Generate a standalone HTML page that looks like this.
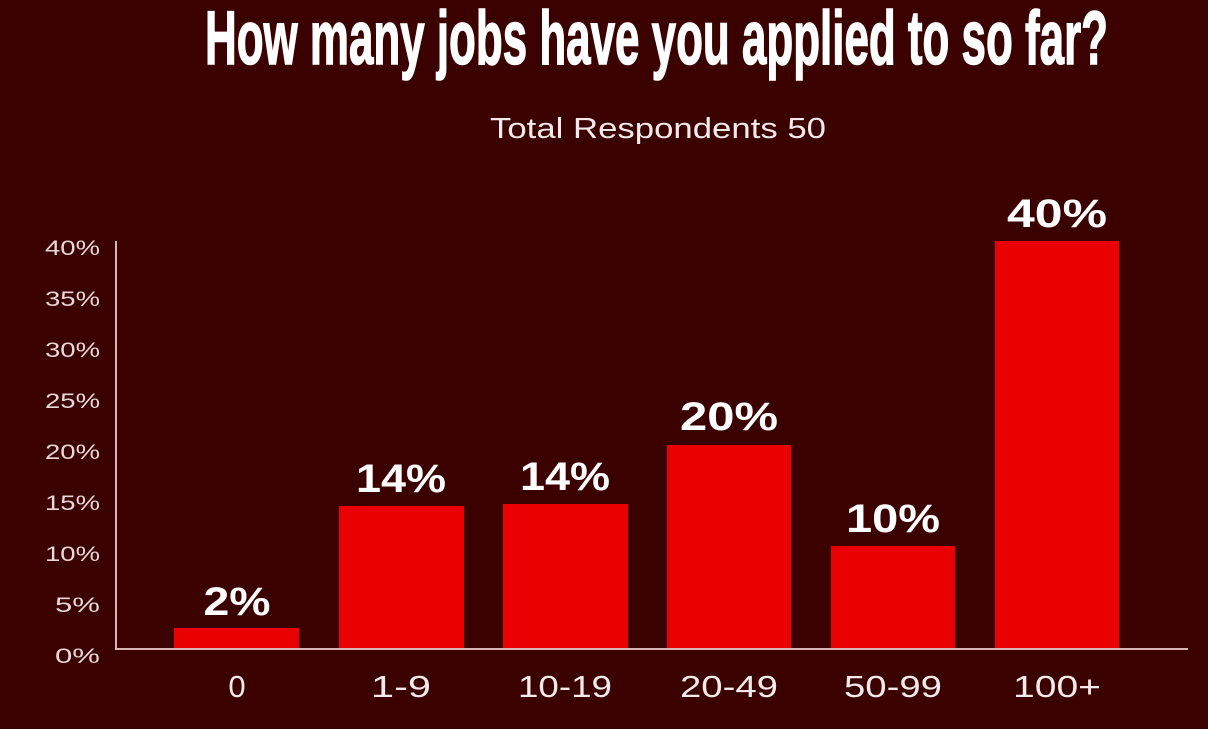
<!DOCTYPE html>
<html><head><meta charset="utf-8"><style>
html,body{margin:0;padding:0;background:#3b0000;}
svg{display:block;}
</style></head><body>
<svg width="1208" height="729" viewBox="0 0 1208 729" xmlns="http://www.w3.org/2000/svg">
<rect width="1208" height="729" fill="#3b0000"/>
<text x="205" y="64" font-family="Liberation Sans Narrow, Liberation Sans, sans-serif" font-weight="bold" font-size="76" fill="#fff" stroke="#fff" stroke-width="1.5" textLength="903" lengthAdjust="spacingAndGlyphs">How many jobs have you applied to so far?</text>
<text x="490" y="138" font-family="Liberation Sans, sans-serif" font-size="29" fill="#f4eaea" textLength="336" lengthAdjust="spacingAndGlyphs">Total Respondents 50</text>
<g font-family="Liberation Sans, sans-serif" font-size="21" fill="#e8d8d8" text-anchor="end">
<text x="100" y="663" textLength="45" lengthAdjust="spacingAndGlyphs">0%</text>
<text x="100" y="612" textLength="45" lengthAdjust="spacingAndGlyphs">5%</text>
<text x="100" y="561" textLength="55" lengthAdjust="spacingAndGlyphs">10%</text>
<text x="100" y="510" textLength="55" lengthAdjust="spacingAndGlyphs">15%</text>
<text x="100" y="459" textLength="55" lengthAdjust="spacingAndGlyphs">20%</text>
<text x="100" y="408" textLength="55" lengthAdjust="spacingAndGlyphs">25%</text>
<text x="100" y="357" textLength="55" lengthAdjust="spacingAndGlyphs">30%</text>
<text x="100" y="306" textLength="55" lengthAdjust="spacingAndGlyphs">35%</text>
<text x="100" y="255" textLength="55" lengthAdjust="spacingAndGlyphs">40%</text>
</g>
<g fill="#ea0000">
<rect x="174" y="628" width="125" height="21"/>
<rect x="339" y="506" width="125" height="143"/>
<rect x="503" y="504" width="125" height="145"/>
<rect x="667" y="445" width="124" height="204"/>
<rect x="831" y="546" width="124" height="103"/>
<rect x="995" y="241" width="124" height="408"/>
</g>
<line x1="116" y1="241" x2="116" y2="649" stroke="#d8b4b4" stroke-width="2"/>
<line x1="115" y1="649" x2="1188" y2="649" stroke="#d8b4b4" stroke-width="2"/>
<g font-family="Liberation Sans, sans-serif" font-weight="bold" font-size="40" fill="#fff" text-anchor="middle">
<text x="237" y="615" textLength="67" lengthAdjust="spacingAndGlyphs">2%</text>
<text x="401" y="492" textLength="90" lengthAdjust="spacingAndGlyphs">14%</text>
<text x="565" y="490" textLength="90" lengthAdjust="spacingAndGlyphs">14%</text>
<text x="729" y="430" textLength="98" lengthAdjust="spacingAndGlyphs">20%</text>
<text x="893" y="532" textLength="94" lengthAdjust="spacingAndGlyphs">10%</text>
<text x="1057" y="227" textLength="100" lengthAdjust="spacingAndGlyphs">40%</text>
</g>
<g font-family="Liberation Sans, sans-serif" font-size="31" fill="#f4eaea" text-anchor="middle">
<text x="237" y="697">0</text>
<text x="401" y="697" textLength="60" lengthAdjust="spacingAndGlyphs">1-9</text>
<text x="565" y="697" textLength="94" lengthAdjust="spacingAndGlyphs">10-19</text>
<text x="729" y="697" textLength="98" lengthAdjust="spacingAndGlyphs">20-49</text>
<text x="893" y="697" textLength="98" lengthAdjust="spacingAndGlyphs">50-99</text>
<text x="1057" y="697" textLength="88" lengthAdjust="spacingAndGlyphs">100+</text>
</g>
</svg>
</body></html>
